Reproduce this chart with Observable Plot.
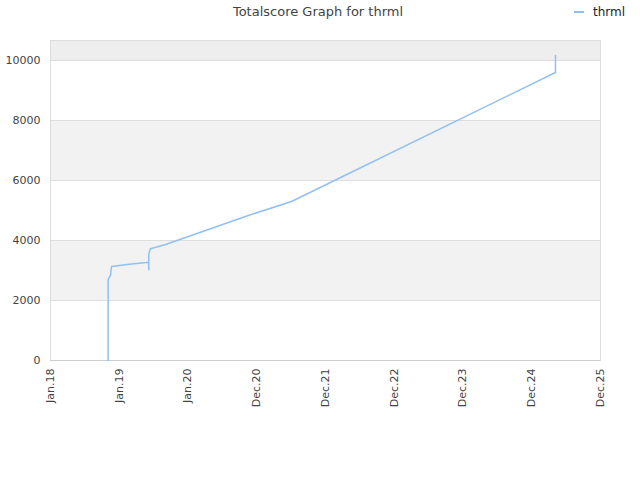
<!DOCTYPE html>
<html>
<head>
<meta charset="utf-8">
<script src="https://cdn.jsdelivr.net/npm/d3@7"></script>
<script src="https://cdn.jsdelivr.net/npm/@observablehq/plot@0.6"></script>
<style>
  html, body { margin: 0; padding: 0; background: #fff; }
  #wrap { position: relative; width: 640px; height: 480px; font-family: "DejaVu Sans", sans-serif; }
  #title { position: absolute; left: 0; width: 636px; top: 4px; text-align: center; font-size: 13px; color: #444; }
  #legend { position: absolute; left: 574px; top: 5px; font-size: 12px; color: #222; display: flex; align-items: center; }
  #legend .sw { display: inline-block; width: 10px; height: 2px; background: #90c0f2; margin-right: 9px; }
  #chart { position: absolute; left: 0; top: 0; }
</style>
</head>
<body>
<div id="wrap">
  <div id="chart"></div>
  <div id="title">Totalscore Graph for thrml</div>
  <div id="legend"><span class="sw"></span><span>thrml</span></div>
</div>
<script>
// Data
const seriesName = "thrml";
const dates = [
  "2018-11-03", "2018-11-03", "2018-11-07", "2018-11-16", "2018-11-21",
  "2019-02-12", "2019-04-15", "2019-05-24", "2019-06-06", "2019-06-07",
  "2019-06-07", "2019-06-16", "2019-09-04", "2020-11-28", "2021-07-04",
  "2025-05-06", "2025-05-06"
];
const scores = [
  0, 2690, 2743, 2857, 3133,
  3200, 3243, 3267, 3277, 3023,
  3557, 3723, 3867, 4857, 5300,
  9600, 10167
];
const yTicks = [0, 2000, 4000, 6000, 8000, 10000];
const xTickDates = ["2018-01-01", "2019-01-01", "2020-01-01", "2020-12-31", "2021-12-31", "2022-12-31", "2023-12-31", "2024-12-30", "2025-12-30"];
const xTickLabels = ["Jan.18", "Jan.19", "Jan.20", "Dec.20", "Dec.21", "Dec.22", "Dec.23", "Dec.24", "Dec.25"];
const bandLow = [2000, 6000, 10000];
const bandHigh = [4000, 8000, 10667];
const bandFill = ["#f2f2f2", "#f2f2f2", "#eeeeee"];

const xDomain = [new Date("2018-01-01"), new Date("2025-12-31")];
const yDomain = [0, 10667];

const data = dates.map((d, i) => ({date: new Date(d), score: scores[i]}));
const bands = bandLow.map((lo, i) => ({lo, hi: bandHigh[i], fill: bandFill[i]}));
const tickDates = xTickDates.map(d => new Date(d));
const labelOf = new Map(tickDates.map((d, i) => [+d, xTickLabels[i]]));

const chart = Plot.plot({
  width: 640,
  height: 480,
  marginLeft: 50,
  marginRight: 40,
  marginTop: 40,
  marginBottom: 120,
  style: {fontFamily: "DejaVu Sans, sans-serif", fontSize: "11px", color: "#444", background: "#fff"},
  x: {type: "utc", domain: xDomain},
  y: {domain: yDomain},
  marks: [
    Plot.rect(bands, {x1: () => xDomain[0], x2: () => xDomain[1], y1: "lo", y2: "hi", fill: d => d.fill}),
    Plot.ruleY(yTicks, {stroke: "#dddddd", strokeWidth: 1}),
    Plot.frame({stroke: "#dddddd"}),
    Plot.ruleY([0], {stroke: "#cccccc"}),
    Plot.line(data, {x: "date", y: "score", stroke: "#90c0f2", strokeWidth: 1.5}),
    Plot.axisY(yTicks, {tickSize: 0, tickPadding: 10, fontSize: 11, fill: "#444", label: null, tickFormat: d => String(d)}),
    Plot.axisX(tickDates, {tickSize: 0, tickPadding: 8, tickRotate: -90, fontSize: 11, fill: "#444", label: null,
      tickFormat: d => labelOf.get(+d)})
  ]
});
document.getElementById("chart").appendChild(chart);
</script>
</body>
</html>
